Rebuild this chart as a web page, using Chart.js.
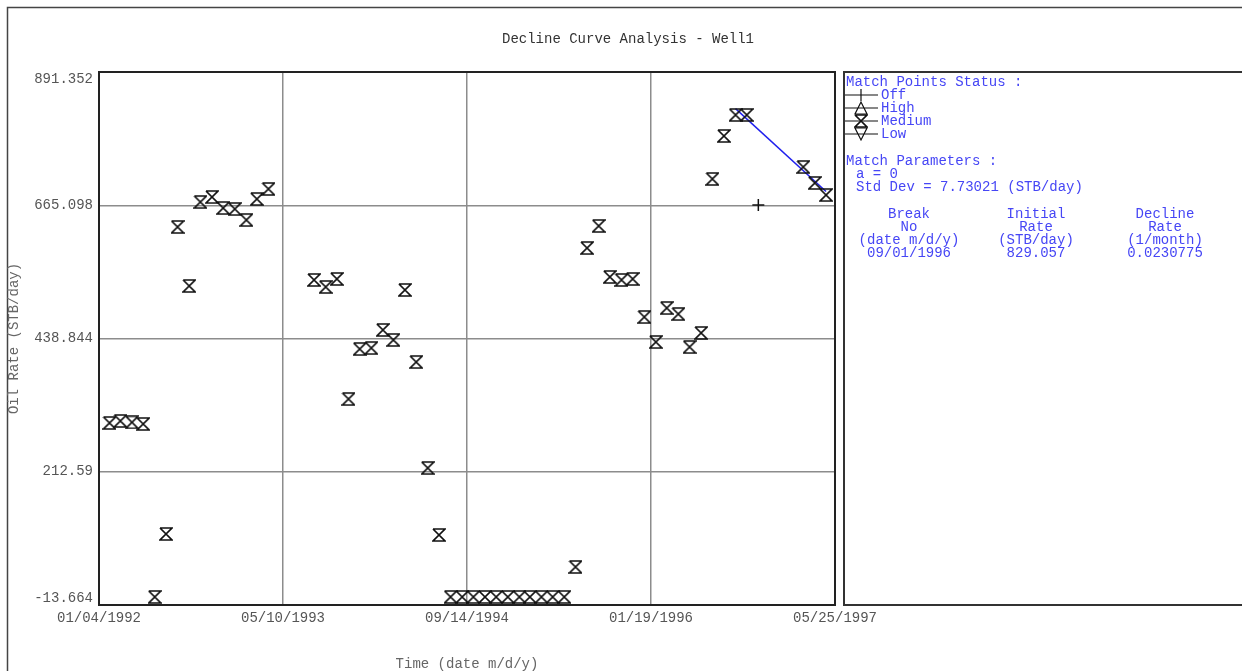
<!DOCTYPE html>
<html lang="en">
<head>
  <meta charset="UTF-8" />
  <title>Decline Curve Analysis - Well1</title>
  <script src="https://cdn.jsdelivr.net/npm/chart.js"></script>
  <style>
    html, body { margin: 0; padding: 0; background: #fff; }
    #wrap { width: 1242px; height: 671px; }
  </style>
</head>
<body>
  <div id="wrap"><canvas id="dca" width="1242" height="671"></canvas></div>

  <script>
    // monthly oil rate readings (STB/day), "Medium" match points
    const dates = [
      '02/01/1992', '03/01/1992', '04/01/1992', '05/01/1992', '06/01/1992', '07/01/1992',
      '08/01/1992', '09/01/1992', '10/01/1992', '11/01/1992', '12/01/1992', '01/01/1993',
      '02/01/1993', '03/01/1993', '04/01/1993',
      '08/01/1993', '09/01/1993', '10/01/1993', '11/01/1993', '12/01/1993', '01/01/1994',
      '02/01/1994', '03/01/1994', '04/01/1994', '05/01/1994', '06/01/1994', '07/01/1994',
      '08/01/1994', '09/01/1994', '10/01/1994', '11/01/1994', '12/01/1994', '01/01/1995',
      '02/01/1995', '03/01/1995', '04/01/1995', '05/01/1995', '06/01/1995', '07/01/1995',
      '08/01/1995', '09/01/1995', '10/01/1995', '11/01/1995', '12/01/1995', '01/01/1996',
      '02/01/1996', '03/01/1996', '04/01/1996', '05/01/1996', '06/01/1996', '07/01/1996',
      '08/01/1996', '09/01/1996', '10/01/1996',
      '03/01/1997', '04/01/1997', '05/01/1997'
    ];
    const rates = [
      295.4, 298.8, 296.5, 293.7, 0, 106.9,
      628.2, 528.0, 670.6, 679.1, 660.4, 658.7,
      640.0, 675.7, 692.7,
      538.2, 526.3, 539.9, 336.1, 421.0, 422.7,
      453.3, 436.3, 521.2, 398.9, 218.9, 105.2,
      0, 0, 0, 0, 0, 0,
      0, 0, 0, 0, 0, 50.9,
      592.5, 629.9, 543.3, 538.2, 539.9, 475.3,
      432.9, 490.6, 480.4, 424.4, 448.2, 709.7,
      782.7, 818.4, 818.4,
      730.0, 702.9, 682.5
    ];

    // points switched off
    const offDates = ['11/01/1996'];
    const offRates = [665.5];

    // decline match line
    const fitDates = ['09/01/1996', '05/01/1997'];
    const fitRates = [829.1, 688.5];

    const xTickLabels = ['01/04/1992', '05/10/1993', '09/14/1994', '01/19/1996', '05/25/1997'];
    const yTickValues = [-13.664, 212.59, 438.844, 665.098, 891.352];

    const matchParams = ['a = 0', 'Std Dev = 7.73021 (STB/day)'];
    const breakTable = [
      ['Break', 'No', '(date m/d/y)', '09/01/1996'],
      ['Initial', 'Rate', '(STB/day)', '829.057'],
      ['Decline', 'Rate', '(1/month)', '0.0230775']
    ];

    const ORIGIN = Date.UTC(1992, 0, 4);
    function toDay(s) {
      const [m, d, y] = s.split('/').map(Number);
      return (Date.UTC(y, m - 1, d) - ORIGIN) / 86400000;
    }
    function fmtDay(v) {
      const dt = new Date(ORIGIN + Math.round(v) * 86400000);
      const p = n => String(n).padStart(2, '0');
      return p(dt.getUTCMonth() + 1) + '/' + p(dt.getUTCDate()) + '/' + dt.getUTCFullYear();
    }

    const MONO = "'Liberation Mono', 'DejaVu Sans Mono', monospace";
    const BLUE = '#4646f5';

    // hourglass marker
    function hourglass(w, h) {
      const c = document.createElement('canvas');
      c.width = w + 2; c.height = h + 2;
      const g = c.getContext('2d');
      g.strokeStyle = '#111';
      g.lineWidth = 1.7;
      g.beginPath();
      g.moveTo(1, 1); g.lineTo(w + 1, 1);
      g.lineTo(1, h + 1); g.lineTo(w + 1, h + 1);
      g.lineTo(1, 1);
      g.stroke();
      return c;
    }
    const hg = hourglass(12, 12);

    const xTicks = xTickLabels.map(toDay);

    const panel = {
      id: 'panel',
      afterDraw(chart) {
        const ctx = chart.ctx;
        const a = chart.chartArea;
        ctx.save();

        // outer frame
        ctx.strokeStyle = '#444';
        ctx.lineWidth = 1.5;
        ctx.beginPath();
        ctx.moveTo(7.5, 671); ctx.lineTo(7.5, 7.5); ctx.lineTo(1242, 7.5);
        ctx.stroke();

        // plot border
        ctx.strokeStyle = '#222';
        ctx.lineWidth = 2;
        ctx.strokeRect(a.left, a.top, a.right - a.left, a.bottom - a.top);

        // titles
        ctx.fillStyle = '#333';
        ctx.font = '14px ' + MONO;
        ctx.textAlign = 'center';
        ctx.textBaseline = 'middle';
        ctx.fillText('Decline Curve Analysis - Well1', 628, 39);
        ctx.fillStyle = '#666';
        ctx.fillText('Time (date m/d/y)', (a.left + a.right) / 2, 664);
        ctx.save();
        ctx.translate(14, (a.top + a.bottom) / 2);
        ctx.rotate(-Math.PI / 2);
        ctx.fillText('Oil Rate (STB/day)', 0, 0);
        ctx.restore();

        // side panel
        const px = 844;
        ctx.strokeStyle = '#333';
        ctx.lineWidth = 2;
        ctx.strokeRect(px, a.top, 1250 - px, a.bottom - a.top);

        ctx.fillStyle = BLUE;
        ctx.textAlign = 'left';
        ctx.fillText('Match Points Status :', 846, 82);
        const labels = ['Off', 'High', 'Medium', 'Low'];
        labels.forEach((t, i) => {
          const y = 95 + i * 13;
          ctx.fillStyle = BLUE;
          ctx.fillText(t, 881, y);
          ctx.strokeStyle = '#111';
          ctx.lineWidth = 1.2;
          ctx.beginPath();
          ctx.moveTo(845, y); ctx.lineTo(878, y);
          if (i === 0) { ctx.moveTo(861, y - 6); ctx.lineTo(861, y + 6); }
          if (i === 1) { ctx.moveTo(861, y - 6); ctx.lineTo(855, y + 6); ctx.lineTo(867, y + 6); ctx.closePath(); }
          if (i === 3) { ctx.moveTo(855, y - 6); ctx.lineTo(867, y - 6); ctx.lineTo(861, y + 6); ctx.closePath(); }
          ctx.stroke();
          if (i === 2) ctx.drawImage(hg, 861 - hg.width / 2, y - hg.height / 2);
        });

        ctx.fillStyle = BLUE;
        ctx.fillText('Match Parameters :', 846, 161);
        matchParams.forEach((t, i) => ctx.fillText(t, 856, 174 + i * 13));

        ctx.textAlign = 'center';
        const cx = [909, 1036, 1165];
        breakTable.forEach((col, j) => {
          col.forEach((t, i) => ctx.fillText(t, cx[j], 214 + i * 13));
        });

        ctx.restore();
      }
    };

    const ctx = document.getElementById('dca').getContext('2d');
    new Chart(ctx, {
      type: 'scatter',
      data: {
        datasets: [
          {
            label: 'Match',
            data: fitDates.map((d, i) => ({ x: toDay(d), y: fitRates[i] })),
            showLine: true,
            borderColor: '#2020ee',
            borderWidth: 1.5,
            pointRadius: 0,
            order: 2
          },
          {
            label: 'Medium',
            data: dates.map((d, i) => ({ x: toDay(d), y: rates[i] })),
            pointStyle: hg,
            order: 1
          },
          {
            label: 'Off',
            data: offDates.map((d, i) => ({ x: toDay(d), y: offRates[i] })),
            pointStyle: 'cross',
            pointRadius: 6,
            borderColor: '#111',
            borderWidth: 1.5,
            order: 1
          }
        ]
      },
      options: {
        responsive: false,
        animation: false,
        clip: false,
        layout: { padding: { left: 0, top: 72, right: 407, bottom: 0 } },
        plugins: {
          legend: { display: false },
          tooltip: { enabled: false }
        },
        scales: {
          x: {
            type: 'linear',
            min: xTicks[0],
            max: xTicks[xTicks.length - 1],
            afterBuildTicks: s => { s.ticks = xTicks.map(v => ({ value: v })); },
            afterFit: s => { s.height = 66; },
            grid: { color: '#8c8c8c', lineWidth: 1.5, drawTicks: false },
            border: { display: false },
            ticks: {
              padding: 5,
              color: '#555',
              font: { family: MONO, size: 14 },
              maxRotation: 0,
              autoSkip: false,
              callback: v => fmtDay(v)
            }
          },
          y: {
            min: yTickValues[0],
            max: yTickValues[yTickValues.length - 1],
            afterBuildTicks: s => { s.ticks = yTickValues.map(v => ({ value: v })); },
            afterFit: s => { s.width = 99; },
            grid: { color: '#8c8c8c', lineWidth: 1.5, drawTicks: false },
            border: { display: false },
            ticks: {
              padding: 6,
              color: '#555',
              font: { family: MONO, size: 14, lineHeight: 1 },
              autoSkip: false,
              // end labels sit just inside the plot, as in the original
              callback: (v, i, all) => {
                const t = String(+v.toFixed(3));
                if (i === all.length - 1) return ['', t];
                if (i === 0) return [t, ''];
                return t;
              }
            }
          }
        }
      },
      plugins: [panel]
    });
  </script>
</body>
</html>
